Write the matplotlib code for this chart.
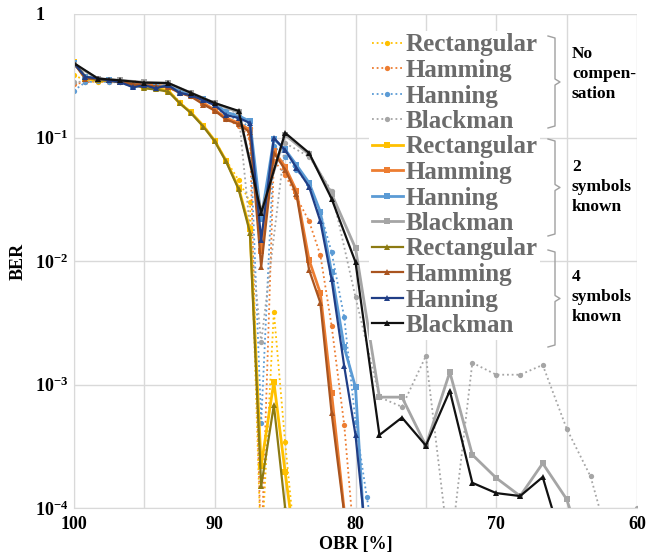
import matplotlib
matplotlib.use('Agg')
import matplotlib.pyplot as plt
from matplotlib.lines import Line2D
from matplotlib.ticker import MultipleLocator, NullLocator

plt.rcParams['font.family'] = 'Liberation Serif'
plt.rcParams['font.weight'] = 'bold'
plt.rcParams['axes.labelweight'] = 'bold'
plt.rcParams['mathtext.fontset'] = 'custom'
plt.rcParams['mathtext.rm'] = 'Liberation Serif:bold'
plt.rcParams['mathtext.bf'] = 'Liberation Serif:bold'
plt.rcParams['mathtext.default'] = 'bf'

# OBR [%] values (fine step for rectangular/hamming/hanning, coarse for blackman)
obr_fine = [100, 99.2, 98.3, 97.5, 96.7, 95.8, 95, 94.2, 93.3, 92.5, 91.7, 90.8, 90,
            89.2, 88.3, 87.5, 86.7, 85.8, 85, 84.2, 83.3, 82.5, 81.7, 80.8, 80, 79.2, 78.3]
obr_coarse = [100, 98.3, 96.7, 95, 93.3, 91.7, 90, 88.3, 86.7, 85, 83.3, 81.7, 80,
              78.3, 76.7, 75, 73.3, 71.7, 70, 68.3, 66.7, 65, 63.3, 61.7, 60]

# no compensation
rect_nc = [0.32, 0.29, 0.28, 0.285, 0.28, 0.27, 0.255, 0.25, 0.24, 0.195, 0.16, 0.125,
           0.095, 0.066, 0.045, 0.030, 4e-5, 3.9e-3, 3.4e-4, 4e-5]
hamm_nc = [0.27, 0.28, 0.285, 0.28, 0.28, 0.27, 0.265, 0.26, 0.255, 0.23, 0.215, 0.19,
           0.165, 0.14, 0.125, 0.10, 4e-5, 0.065, 0.05, 0.033, 0.021, 0.0112, 3.0e-3,
           4.7e-4, 4e-5]
hann_nc = [0.24, 0.28, 0.285, 0.28, 0.28, 0.27, 0.265, 0.26, 0.255, 0.235, 0.22, 0.2,
           0.18, 0.15, 0.14, 0.12, 4.9e-4, 0.085, 0.07, 0.055, 0.041, 0.025, 0.0118,
           3.5e-3, 5e-4, 1.23e-4, 3e-5]
black_nc = [0.28, 0.29, 0.285, 0.275, 0.27, 0.225, 0.19, 0.155, 2.2e-3, 0.09, 0.07,
            0.037, 5.1e-3, 7.9e-4, 6.6e-4, 1.7e-3, 4e-5, 1.5e-3, 1.2e-3, 1.2e-3,
            1.44e-3, 4.4e-4, 1.8e-4, 4e-5, 1e-4]

# 2 symbols known
rect_2 = [0.41, 0.30, 0.29, 0.29, 0.285, 0.275, 0.255, 0.25, 0.24, 0.19, 0.16, 0.124,
          0.094, 0.065, 0.039, 0.018, 2.2e-4, 1.05e-3, 1.95e-4, 4e-5]
hamm_2 = [0.40, 0.31, 0.30, 0.29, 0.285, 0.275, 0.27, 0.265, 0.26, 0.235, 0.22, 0.19,
          0.167, 0.144, 0.131, 0.115, 0.012, 0.078, 0.058, 0.037, 0.0102, 5.5e-3,
          8.5e-4, 9.5e-5, 3e-5]
hann_2 = [0.40, 0.31, 0.30, 0.29, 0.28, 0.26, 0.265, 0.255, 0.265, 0.235, 0.225, 0.205,
          0.19, 0.16, 0.15, 0.135, 0.022, 0.097, 0.08, 0.06, 0.043, 0.025, 0.0081,
          2.0e-3, 9.5e-4, 3e-5]
black_2 = [0.39, 0.30, 0.29, 0.28, 0.275, 0.23, 0.19, 0.16, 0.025, 0.105, 0.073, 0.035,
           0.0127, 7.9e-4, 7.9e-4, 3.2e-4, 1.26e-3, 2.7e-4, 1.75e-4, 1.25e-4, 2.3e-4,
           1.18e-4, 3e-5]

# 4 symbols known
rect_4 = [0.40, 0.31, 0.29, 0.29, 0.28, 0.27, 0.25, 0.245, 0.235, 0.19, 0.158, 0.122,
          0.093, 0.064, 0.038, 0.017, 1.5e-4, 6.8e-4, 1.0e-4, 4e-5]
hamm_4 = [0.40, 0.30, 0.30, 0.29, 0.28, 0.27, 0.265, 0.26, 0.255, 0.23, 0.215, 0.185,
          0.165, 0.14, 0.128, 0.11, 8.9e-3, 0.075, 0.055, 0.035, 8.5e-3, 4.6e-3,
          5.9e-4, 9e-5, 3e-5]
hann_4 = [0.40, 0.31, 0.30, 0.29, 0.28, 0.255, 0.265, 0.25, 0.265, 0.23, 0.22, 0.20,
          0.183, 0.152, 0.144, 0.131, 0.0148, 0.099, 0.079, 0.057, 0.040, 0.021,
          7.1e-3, 1.4e-3, 3.9e-4, 5e-5]
black_4 = [0.40, 0.30, 0.29, 0.278, 0.276, 0.23, 0.19, 0.164, 0.0245, 0.109, 0.075,
           0.032, 9.8e-3, 3.9e-4, 5.4e-4, 3.2e-4, 8.9e-4, 1.6e-4, 1.32e-4, 1.25e-4,
           1.78e-4, 4e-5]

names = ['Rectangular', 'Hamming', 'Hanning', 'Blackman']
nc_cols = ['#FFC000', '#ED7D31', '#5B9BD5', '#A5A5A5']
sym4_cols = ['#8C7A12', '#A9541F', '#203E86', '#111111']

groups = [
    ([rect_nc, hamm_nc, hann_nc, black_nc], nc_cols, (0, (1, 1.6)), 1.3, 'o', 3.8),
    ([rect_2, hamm_2, hann_2, black_2], nc_cols, '-', 2.0, 's', 4.2),
    ([rect_4, hamm_4, hann_4, black_4], sym4_cols, '-', 1.6, '^', 3.8),
]

fig = plt.figure(figsize=(6.57, 5.53), dpi=100)
ax = fig.add_axes([74 / 657, 45 / 553, 563 / 657, 494 / 553])

handles = []
labels = []
for series, cols, ls, lw, mk, ms in groups:
    for i, ys in enumerate(series):
        xs = obr_coarse if i == 3 else obr_fine
        ln, = ax.plot(xs[:len(ys)], ys, linestyle=ls, linewidth=lw, color=cols[i],
                      marker=mk, markersize=ms, markeredgewidth=0)
        handles.append(ln)
        labels.append(names[i])

ax.set_yscale('log')
ax.set_ylim(1e-4, 1)
ax.set_xlim(100, 60)
ax.yaxis.set_minor_locator(NullLocator())
ax.set_yticks([1e-4, 1e-3, 1e-2, 1e-1, 1])
ax.set_yticklabels([r'$\mathbf{10^{-4}}$', r'$\mathbf{10^{-3}}$', r'$\mathbf{10^{-2}}$',
                    r'$\mathbf{10^{-1}}$', '1'], ha='left', fontweight='bold')
ax.xaxis.set_major_locator(MultipleLocator(10))
ax.xaxis.set_minor_locator(MultipleLocator(5))
for t in ax.get_xticklabels():
    t.set_fontweight('bold')
ax.tick_params(axis='y', length=0, pad=28, labelsize=13)
ax.tick_params(axis='x', which='both', length=0, pad=6, labelsize=13)
ax.grid(True, which='both', color='#D9D9D9', linewidth=1)
ax.set_axisbelow(True)
for s in ['top', 'right']:
    ax.spines[s].set_visible(False)
for s in ['left', 'bottom']:
    ax.spines[s].set_color('#D9D9D9')

ax.set_xlabel('OBR [%]', fontsize=13, fontweight='bold', labelpad=2)
ax.set_ylabel('BER', fontsize=13, fontweight='bold', labelpad=6)

leg = ax.legend(handles, labels, loc='upper left', bbox_to_anchor=(369 / 657, 1 - 31 / 553),
                bbox_transform=fig.transFigure, prop={'size': 18, 'weight': 'bold'},
                labelcolor='#6B6B6B', handlelength=1.25, handletextpad=0.12,
                labelspacing=0.1, borderpad=0.1, borderaxespad=0,
                frameon=True, fancybox=False, framealpha=1, edgecolor='none')


def px(x, y):
    return x / 657, 1 - y / 553


# group braces and labels
braces = [(36, 128), (139, 236), (250, 347)]
for top, bot in braces:
    mid = (top + bot) / 2
    pts = [(548, top), (555, top + 2), (555, mid - 3), (560, mid), (555, mid + 3),
           (555, bot - 2), (548, bot)]
    xs = [px(*p)[0] for p in pts]
    ys = [px(*p)[1] for p in pts]
    fig.add_artist(Line2D(xs, ys, color='#A0A0A0', linewidth=1))

group_labels = ['No\ncompen-\nsation', '2\nsymbols\nknown', '4\nsymbols\nknown']
label_mid = [74, 187, 297]
for ymid, txt in zip(label_mid, group_labels):
    fig.text(*px(572, ymid), txt, fontsize=12.5, fontweight='bold',
             ha='left', va='center', linespacing=1.3)

fig.savefig('out.png', dpi=100)
